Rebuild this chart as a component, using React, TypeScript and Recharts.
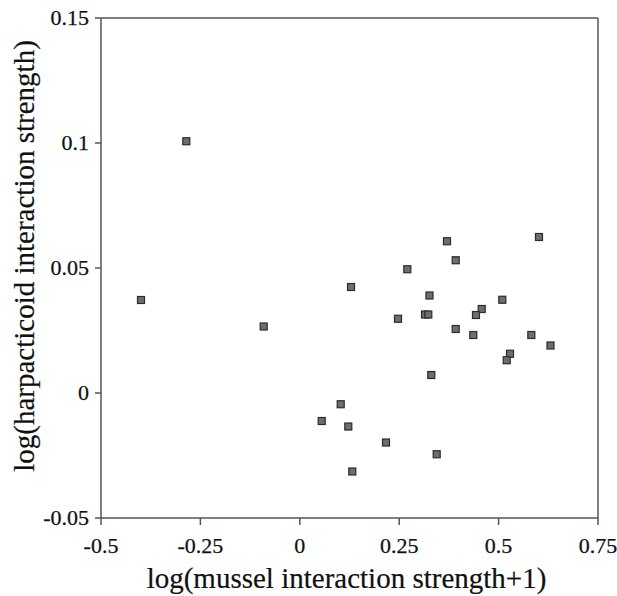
import React from 'react';
import { ScatterChart, Scatter, XAxis, YAxis, ReferenceLine } from 'recharts';

const musselStrength = [
  -0.2855, -0.3994, -0.0908, 0.1288, 0.3702, 0.6016, 0.3921, 0.2704, 0.3262, 0.5093,
  0.4575, 0.4431, 0.247, 0.3149, 0.3232, 0.3921, 0.4364, 0.5823, 0.6305, 0.5287,
  0.5204, 0.3307, 0.1029, 0.0551, 0.122, 0.2168, 0.3443, 0.132,
];
const harpacticoidStrength = [
  0.1007, 0.0372, 0.0266, 0.0424, 0.0607, 0.0624, 0.0531, 0.0495, 0.039, 0.0373,
  0.0336, 0.0312, 0.0297, 0.0314, 0.0314, 0.0256, 0.0232, 0.0232, 0.019, 0.0157,
  0.0131, 0.0072, -0.0045, -0.0112, -0.0134, -0.0198, -0.0245, -0.0314,
];
const xTicks = [-0.5, -0.25, 0, 0.25, 0.5, 0.75];
const yTicks = [-0.05, 0, 0.05, 0.1, 0.15];
const xLabel = 'log(mussel interaction strength+1)';
const yLabel = 'log(harpacticoid interaction strength)';

const data = musselStrength.map((x, i) => ({ x, y: harpacticoidStrength[i] }));

const FONT = '"Liberation Serif", "Times New Roman", serif';
const AXIS = '#555555';
const TEXT = '#111111';

const SquareDot = (props: any) => {
  const { cx, cy } = props;
  if (cx == null || cy == null) return null;
  return (
    <rect x={cx - 3.5} y={cy - 3.5} width={7} height={7} fill="#6e6e6e" stroke="#2b2b2b" strokeWidth={1.2} />
  );
};

const XTick = (props: any) => {
  const { x, y, payload } = props;
  return (
    <text x={x} y={y} dy={15} textAnchor="middle" fontFamily={FONT} fontSize={22} fill={TEXT} stroke={TEXT} strokeWidth={0.25}>
      {String(payload.value)}
    </text>
  );
};

const YTick = (props: any) => {
  const { x, y, payload } = props;
  return (
    <text x={x} y={y} dy={7} textAnchor="end" fontFamily={FONT} fontSize={22} fill={TEXT} stroke={TEXT} strokeWidth={0.25}>
      {String(payload.value)}
    </text>
  );
};

export default function App() {
  return (
    <div style={{ position: 'absolute', left: 0, top: 0, width: 617, height: 596, background: '#fff' }}>
      <ScatterChart width={617} height={596} margin={{ top: 18, right: 19, bottom: 0, left: 0 }}>
        <XAxis
          type="number"
          dataKey="x"
          domain={[-0.5, 0.75]}
          ticks={xTicks}
          allowDataOverflow
          height={78}
          stroke={AXIS}
          strokeWidth={1.5}
          tickSize={7}
          tickMargin={13}
          tick={<XTick />}
          label={{
            content: (p: any) => {
              const vb = p.viewBox || {};
              const cx = (vb.x ?? 101) + (vb.width ?? 497) / 2 - 3;
              return (
                <text x={cx} y={588} textAnchor="middle" fontFamily={FONT} fontSize={29} fill={TEXT} stroke={TEXT} strokeWidth={0.2}>
                  {xLabel}
                </text>
              );
            },
          }}
        />
        <YAxis
          type="number"
          dataKey="y"
          domain={[-0.05, 0.15]}
          ticks={yTicks}
          allowDataOverflow
          width={101}
          stroke={AXIS}
          strokeWidth={1.5}
          tickSize={6}
          tickMargin={6}
          tick={<YTick />}
          label={{
            content: (p: any) => {
              const vb = p.viewBox || {};
              const cy = (vb.y ?? 18) + (vb.height ?? 500) / 2 - 12;
              const lx = 24;
              return (
                <text
                  x={lx}
                  y={cy}
                  transform={`rotate(-90 ${lx} ${cy})`}
                  textAnchor="middle"
                  dominantBaseline="central"
                  fontFamily={FONT}
                  fontSize={29}
                  fill={TEXT}
                  stroke={TEXT}
                  strokeWidth={0.2}
                >
                  {yLabel}
                </text>
              );
            },
          }}
        />
        <ReferenceLine y={0.15} stroke={AXIS} strokeWidth={1.5} />
        <ReferenceLine x={0.75} stroke={AXIS} strokeWidth={1.5} />
        <Scatter data={data} shape={SquareDot} isAnimationActive={false} />
      </ScatterChart>
    </div>
  );
}
